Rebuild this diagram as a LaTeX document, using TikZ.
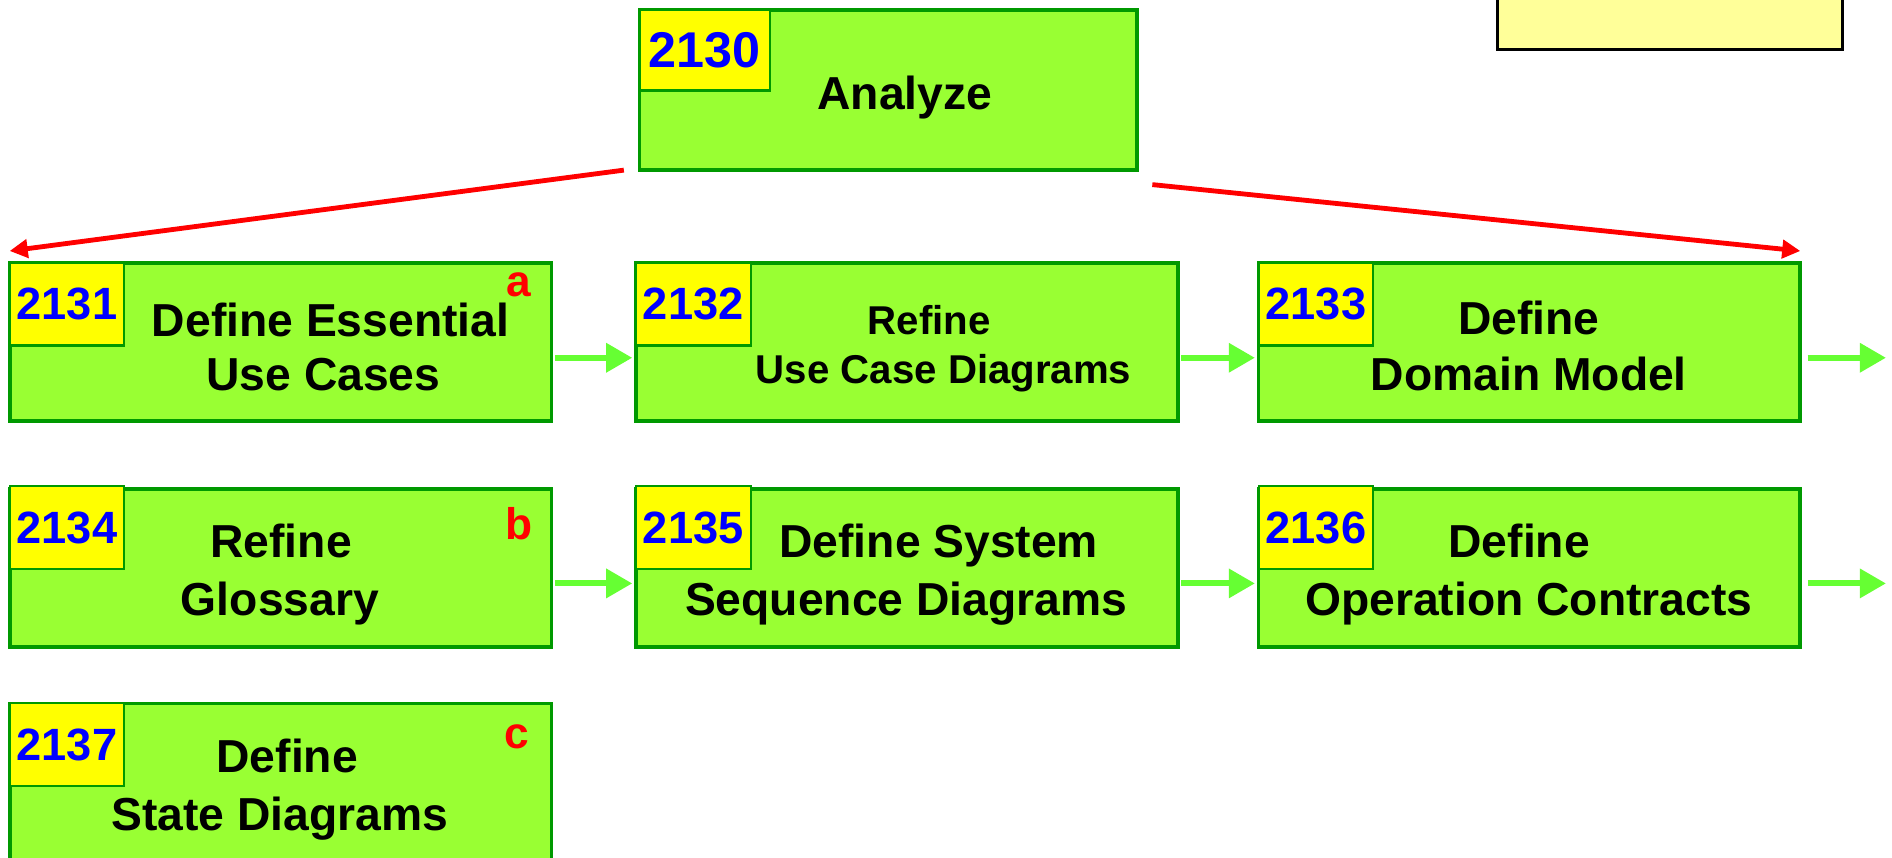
\documentclass[tikz,border=0pt]{standalone}
\usepackage{fontspec}
\setmainfont{Liberation Sans}
\usetikzlibrary{arrows.meta}
\definecolor{boxgreen}{RGB}{153,255,51}
\definecolor{edgegreen}{RGB}{0,153,0}
\definecolor{tagyellow}{RGB}{255,255,0}
\definecolor{notebg}{RGB}{255,255,153}
\definecolor{arrowgreen}{RGB}{102,255,51}
\begin{document}
\begin{tikzpicture}[x=0.6pt,y=-0.6pt,
  taskbox/.style={draw=edgegreen,line width=1.9pt,fill=boxgreen,minimum width=269.4pt,minimum height=78.6pt,inner sep=0pt,outer sep=0pt,anchor=north west},
  tagbox/.style={draw=edgegreen,line width=1pt,fill=tagyellow,minimum width=57pt,minimum height=41pt,inner sep=0pt,outer sep=0pt,anchor=north west,text=blue,font=\bfseries\fontsize{22.5}{22.5}\selectfont},
  lbl/.style={anchor=base,inner sep=0pt,font=\bfseries\fontsize{23}{28}\selectfont},
  slbl/.style={anchor=base,inner sep=0pt,font=\bfseries\fontsize{20}{24}\selectfont},
  letterlbl/.style={anchor=base,inner sep=0pt,text=red,font=\bfseries\fontsize{22}{22}\selectfont},
  garrow/.style={draw=arrowgreen,line width=3pt,-{Triangle[length=13pt,width=14pt]}},
  rarrow/.style={draw=red,line width=2.4pt,-{Triangle[length=9pt,width=9pt]}}
]
\useasboundingbox (0,0) rectangle (1568,711);
% note box top right
\node[draw=black,line width=1.2pt,fill=notebg,minimum width=171.6pt,minimum height=33pt,anchor=south west,inner sep=0pt] (note) at (1240,42) {};
% Analyze
\node[taskbox,minimum width=247.2pt,minimum height=79.8pt] (b2130) at (530,8) {};
\node[tagbox,minimum width=64.8pt,minimum height=40.2pt,font=\bfseries\fontsize{25}{25}\selectfont] (t2130) at (b2130.north west) {2130};
\node[lbl] (l2130) at (750,91) {Analyze};
% row 1
\node[taskbox] (b2131) at (8,218) {};
\node[taskbox] (b2132) at (527,218) {};
\node[taskbox] (b2133) at (1043,218) {};
\node[tagbox] (t2131) at (b2131.north west) {2131};
\node[tagbox] (t2132) at (b2132.north west) {2132};
\node[tagbox] (t2133) at (b2133.north west) {2133};
\node[lbl] (l2131a) at (274,279) {Define Essential};
\node[lbl] (l2131b) at (268,324) {Use Cases};
\node[letterlbl] (m2131) at (430,246) {a};
\node[slbl] (l2132a) at (770,277) {Refine};
\node[slbl] (l2132b) at (782,318) {Use Case Diagrams};
\node[lbl] (l2133a) at (1267,277) {Define};
\node[lbl] (l2133b) at (1267,324) {Domain Model};
% row 2
\node[taskbox] (b2134) at (8,405) {};
\node[taskbox] (b2135) at (527,405) {};
\node[taskbox] (b2136) at (1043,405) {};
\node[tagbox] (t2134) at ([yshift=1.2pt]b2134.north west) {2134};
\node[tagbox] (t2135) at ([yshift=1.2pt]b2135.north west) {2135};
\node[tagbox] (t2136) at ([yshift=1.2pt]b2136.north west) {2136};
\node[lbl] (l2134a) at (233,462) {Refine};
\node[lbl] (l2134b) at (232,510) {Glossary};
\node[letterlbl] (m2134) at (430,447) {b};
\node[lbl] (l2135a) at (778,462) {Define System};
\node[lbl] (l2135b) at (751,510) {Sequence Diagrams};
\node[lbl] (l2136a) at (1259,462) {Define};
\node[lbl] (l2136b) at (1267,510) {Operation Contracts};
% row 3
\node[taskbox] (b2137) at (8,583) {};
\node[tagbox] (t2137) at (b2137.north west) {2137};
\node[lbl] (l2137a) at (238,640) {Define};
\node[lbl] (l2137b) at (232,688) {State Diagrams};
\node[letterlbl] (m2137) at (428,620) {c};
% green arrows
\coordinate (r1) at ([shift={(71,13)}]b2133.east);
\coordinate (r2) at ([shift={(71,13)}]b2136.east);
\draw[garrow] ([shift={(3,13)}]b2131.east) -- ([shift={(-3,13)}]b2132.west);
\draw[garrow] ([shift={(3,13)}]b2132.east) -- ([shift={(-3,13)}]b2133.west);
\draw[garrow] ([shift={(6,13)}]b2133.east) -- (r1);
\draw[garrow] ([shift={(3,13)}]b2134.east) -- ([shift={(-3,13)}]b2135.west);
\draw[garrow] ([shift={(3,13)}]b2135.east) -- ([shift={(-3,13)}]b2136.west);
\draw[garrow] ([shift={(6,13)}]b2136.east) -- (r2);
% red arrows
\draw[rarrow] ([xshift=-7.8pt]b2130.south west) -- ([yshift=6pt]b2131.north west);
\draw[rarrow] ([shift={(13,12)}]b2130.south east) -- ([yshift=6pt]b2133.north east);
\end{tikzpicture}
\end{document}
